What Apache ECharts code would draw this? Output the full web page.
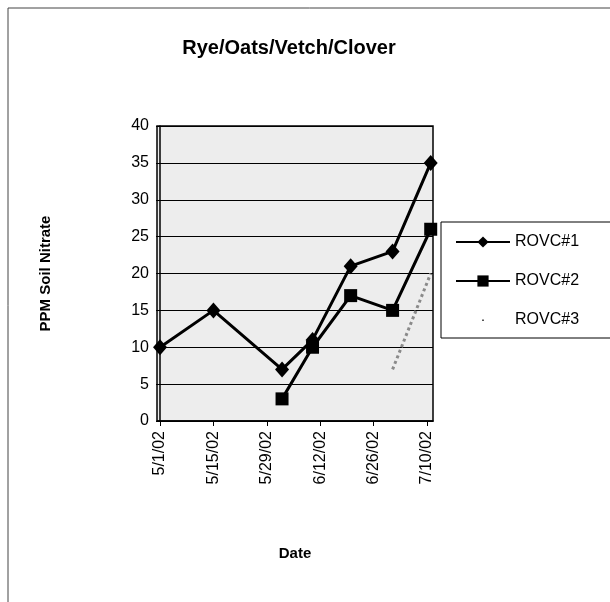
<!DOCTYPE html>
<html>
<head>
<meta charset="utf-8">
<title>Rye/Oats/Vetch/Clover</title>
<script src="https://cdn.jsdelivr.net/npm/echarts@6/dist/echarts.min.js"></script>
<style>
  html, body { margin: 0; padding: 0; background: #fff; }
  #chart { width: 610px; height: 602px; }
</style>
</head>
<body>
<div id="chart"></div>
<script>
// tick labels on the date axis
const tickLabels = ['5/1/02', '5/15/02', '5/29/02', '6/12/02', '6/26/02', '7/10/02'];
// sampling dates and values per series
const dates1 = ['5/1/02', '5/15/02', '6/2/02', '6/10/02', '6/20/02', '7/1/02', '7/11/02'];
const rovc1 = [10, 15, 7, 11, 21, 23, 35];
const dates2 = ['6/2/02', '6/10/02', '6/20/02', '7/1/02', '7/11/02'];
const rovc2 = [3, 10, 17, 15, 26];
const dates3 = ['7/1/02', '7/11/02'];
const rovc3 = [7, 20];

// m/d/yy -> days counted from the first tick date
const DAY = 86400000;
const dayNo = (s) => {
    const [m, d, y] = s.split('/').map(Number);
    return Date.UTC(2000 + y, m - 1, d) / DAY;
};
const day0 = dayNo(tickLabels[0]);
const toX = (s) => dayNo(s) - day0;
const pairs = (dates, vals) => dates.map((d, i) => [toX(d), vals[i]]);
const tickValues = tickLabels.map(toX);

const font = '"Liberation Sans", Arial, sans-serif';
const chart = echarts.init(document.getElementById('chart'));

chart.setOption({
    backgroundColor: '#fff',
    animation: false,
    title: {
        text: 'Rye/Oats/Vetch/Clover',
        left: 284,
        top: 33,
        textAlign: 'center',
        textStyle: { fontFamily: font, fontSize: 20, fontWeight: 'bold', color: '#000' }
    },
    graphic: [{
        type: 'rect',
        shape: { x: 8, y: 8, width: 720, height: 720 },
        style: { fill: 'none', stroke: '#444', lineWidth: 1 },
        silent: true
    }],
    legend: {
        orient: 'vertical',
        left: 441,
        top: 222,
        padding: [12, 40, 10, 14],
        itemGap: 23,
        itemWidth: 54,
        itemHeight: 14,
        borderColor: '#000',
        borderWidth: 1,
        backgroundColor: '#fff',
        textStyle: { fontFamily: font, fontSize: 16, color: '#000' },
        data: [
            { name: 'ROVC#1' },
            { name: 'ROVC#2' },
            { name: 'ROVC#3', icon: 'path://M0,0M54,14M26,6.5h2v1.5h-2z', itemStyle: { color: '#555' } }
        ]
    },
    grid: {
        left: 157,
        top: 126,
        width: 276,
        height: 295,
        show: true,
        backgroundColor: '#ededed',
        borderColor: '#000',
        borderWidth: 1.5
    },
    xAxis: {
        type: 'value',
        min: -0.8,
        max: 71.6,
        name: 'Date',
        nameLocation: 'middle',
        nameGap: 125,
        nameTextStyle: { fontFamily: font, fontSize: 15, fontWeight: 'bold', color: '#000' },
        axisLine: { lineStyle: { color: '#000', width: 1.5 } },
        axisTick: { show: true, length: 5, customValues: tickValues, lineStyle: { color: '#000' } },
        splitLine: { show: false },
        axisLabel: {
            customValues: tickValues,
            rotate: 90,
            margin: 10,
            fontFamily: font,
            fontSize: 16,
            color: '#000',
            formatter: (v) => tickLabels[tickValues.indexOf(v)] || ''
        }
    },
    yAxis: {
        type: 'value',
        min: 0,
        max: 40,
        interval: 5,
        name: 'PPM Soil Nitrate',
        nameLocation: 'middle',
        nameGap: 104,
        nameTextStyle: { fontFamily: font, fontSize: 15, fontWeight: 'bold', color: '#000' },
        axisLine: { show: true, lineStyle: { color: '#000', width: 1.5 } },
        axisTick: { show: true, length: 4, lineStyle: { color: '#000' } },
        splitLine: { show: true, lineStyle: { color: '#000', width: 1.2 } },
        axisLabel: { fontFamily: font, fontSize: 16, color: '#000', margin: 8 }
    },
    series: [{
        name: 'ROVC#3',
        type: 'line',
        data: pairs(dates3, rovc3),
        symbol: 'none',
        z: 1,
        lineStyle: { color: '#8a8a8a', width: 3, type: [3, 3] },
        itemStyle: { color: '#8a8a8a' }
    },
    {
        name: 'ROVC#2',
        type: 'line',
        data: pairs(dates2, rovc2),
        symbol: 'rect',
        symbolSize: 13,
        z: 2,
        lineStyle: { color: '#000', width: 3 },
        itemStyle: { color: '#000' }
    },
    {
        name: 'ROVC#1',
        type: 'line',
        data: pairs(dates1, rovc1),
        symbol: 'diamond',
        symbolSize: [14, 16],
        z: 3,
        lineStyle: { color: '#000', width: 3 },
        itemStyle: { color: '#000' }
    }]
});

window.addEventListener('resize', function() {
    chart.resize();
});
</script>
</body>
</html>
